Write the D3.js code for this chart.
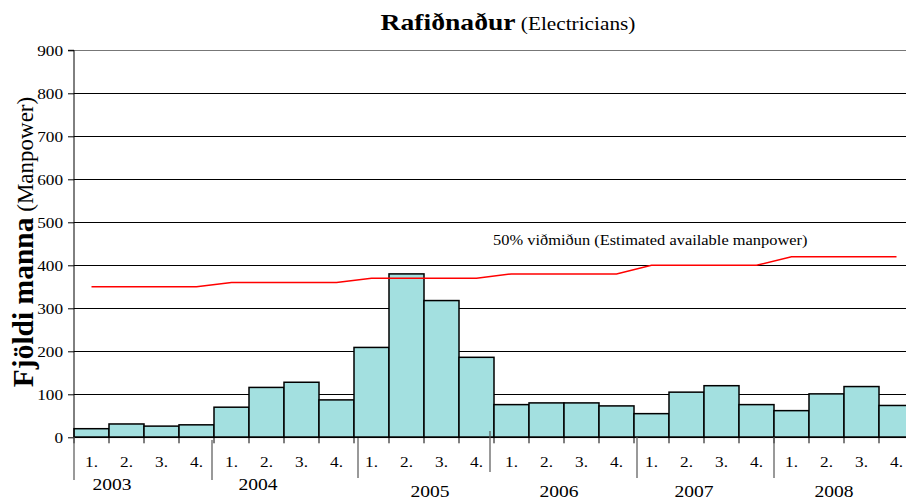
<!DOCTYPE html>
<html>
<head>
<meta charset="utf-8">
<script src="https://cdn.jsdelivr.net/npm/d3@7/dist/d3.min.js"></script>
<style>
  html, body { margin: 0; padding: 0; background: #fff; }
  svg { display: block; }
  svg text { font-family: "Liberation Serif", "Times New Roman", Times, serif; }
</style>
</head>
<body>
<svg id="chart" width="906" height="504"></svg>
<script>
// Quarterly demand for electricians, 2003–2008
const years = ["2003", "2004", "2005", "2006", "2007", "2008"];
const quarters = ["1.", "2.", "3.", "4."];
const manpower = [
  20, 31, 26, 29,
  70, 116, 128, 87,
  209, 380, 318, 186,
  76, 80, 80, 73,
  55, 105, 120, 76,
  62, 101, 118, 74
];
// 50% reference line: estimated available manpower per quarter
const available = [
  350, 350, 350, 350,
  360, 360, 360, 360,
  370, 370, 370, 370,
  380, 380, 380, 380,
  400, 400, 400, 400,
  420, 420, 420, 420
];
const yTicks = [0, 100, 200, 300, 400, 500, 600, 700, 800, 900];

const FONT = "'Liberation Serif', 'Times New Roman', Times, serif";
const svg = d3.select("#chart").attr("font-family", FONT);
const margin = { left: 74, top: 50.3, bottom: 437.3, right: 914 };
const stretch = 1.15; // horizontal widening of the lettering

const keys = manpower.map((_, i) => i);
const x = d3.scaleBand().domain(keys).range([margin.left, margin.right]).padding(0);
const y = d3.scaleLinear().domain([0, 900]).range([margin.bottom, margin.top]);

// helper for widened text
function stext(g, px, py, anchor, k) {
  return g.append("text")
    .attr("font-family", FONT)
    .attr("transform", `translate(${px},${py}) scale(${k || stretch},1)`)
    .attr("text-anchor", anchor || "start");
}

// gridlines
svg.append("g")
  .selectAll("line")
  .data(yTicks.filter(d => d > 0))
  .join("line")
  .attr("x1", margin.left).attr("x2", 906)
  .attr("y1", d => Math.round(y(d)) + 0.5).attr("y2", d => Math.round(y(d)) + 0.5)
  .attr("stroke", d => d === 900 ? "#777" : "#000")
  .attr("stroke-width", 1);

// bars
svg.append("g")
  .selectAll("rect")
  .data(manpower)
  .join("rect")
  .attr("x", (d, i) => x(i))
  .attr("y", d => y(d))
  .attr("width", x.bandwidth())
  .attr("height", d => y(0) - y(d))
  .attr("fill", "#a3e0e0")
  .attr("stroke", "#000")
  .attr("stroke-width", 1.5);

// y axis
const yAxis = d3.axisLeft(y).tickValues(yTicks).tickSize(6).tickPadding(5).tickFormat(d3.format("d"));
const yg = svg.append("g").attr("transform", `translate(${margin.left},0)`).call(yAxis)
  .attr("font-family", FONT);
yg.select(".domain").attr("stroke", "#000").attr("d", `M-6,${y(900)}H0V${y(0)}`);
yg.selectAll(".tick line").attr("stroke", "#000");
yg.selectAll(".tick text")
  .attr("font-family", FONT)
  .attr("font-size", 15)
  .attr("fill", "#000")
  .attr("transform", `scale(${stretch},1)`)
  .attr("x", -11 / stretch);

// x axis baseline and quarter ticks
const boundaries = d3.range(manpower.length + 1).map(i => i < manpower.length ? x(i) : margin.right);
svg.append("line")
  .attr("x1", margin.left).attr("x2", 906)
  .attr("y1", y(0)).attr("y2", y(0))
  .attr("stroke", "#000").attr("stroke-width", 1.5);
svg.append("g").selectAll("line")
  .data(boundaries)
  .join("line")
  .attr("x1", d => d).attr("x2", d => d)
  .attr("y1", y(0)).attr("y2", y(0) + 6)
  .attr("stroke", "#000").attr("stroke-width", 1);

// quarter labels
const qg = svg.append("g").attr("font-size", 15).attr("fill", "#000");
manpower.forEach((d, i) => {
  stext(qg, x(i) + x.bandwidth() / 2, 467, "middle").text(quarters[i % 4]);
});

// year dividers (slightly irregular placement)
const dividerNudge = [0, -2, 4, -4, 3, 0];
const dividerSpan = [[437, 480], [440, 480], [438, 478], [431, 472], [437, 478], [437, 478]];
svg.append("g").selectAll("line")
  .data(years)
  .join("line")
  .attr("x1", (d, i) => x(i * 4) + dividerNudge[i])
  .attr("x2", (d, i) => x(i * 4) + dividerNudge[i])
  .attr("y1", (d, i) => dividerSpan[i][0])
  .attr("y2", (d, i) => dividerSpan[i][1])
  .attr("stroke", "#555").attr("stroke-width", 1.2);

// year labels
const yearNudge = [[-32, 490], [-26, 490], [6, 497], [-5, 497], [-10, 497], [-10, 497]];
const yrg = svg.append("g").attr("font-size", 17).attr("fill", "#000");
years.forEach((yr, i) => {
  const cx = (x(i * 4) + (i * 4 + 4 < manpower.length ? x(i * 4 + 4) : margin.right)) / 2;
  stext(yrg, cx + yearNudge[i][0], yearNudge[i][1], "middle").text(yr);
});

// reference line
const line = d3.line()
  .x((d, i) => x(i) + x.bandwidth() / 2)
  .y(d => y(d));
svg.append("path")
  .datum(available)
  .attr("d", line)
  .attr("fill", "none")
  .attr("stroke", "#ff0000")
  .attr("stroke-width", 1.5);

stext(svg, 493, 245, "start", 1.095)
  .attr("font-size", 15)
  .text("50% viðmiðun (Estimated available manpower)");

// title
const t = stext(svg, 508, 30, "middle");
t.append("tspan").attr("font-weight", "bold").attr("font-size", 24).text("Rafiðnaður");
t.append("tspan").attr("font-size", 18.5).text(" (Electricians)");

// y axis title
const yt = svg.append("text")
  .attr("font-family", FONT)
  .attr("transform", `translate(33,242) rotate(-90)`)
  .attr("text-anchor", "middle");
yt.append("tspan").attr("font-weight", "bold").attr("font-size", 29.5).text("Fjöldi manna");
yt.append("tspan").attr("font-size", 23).text(" (Manpower)");
</script>
</body>
</html>
